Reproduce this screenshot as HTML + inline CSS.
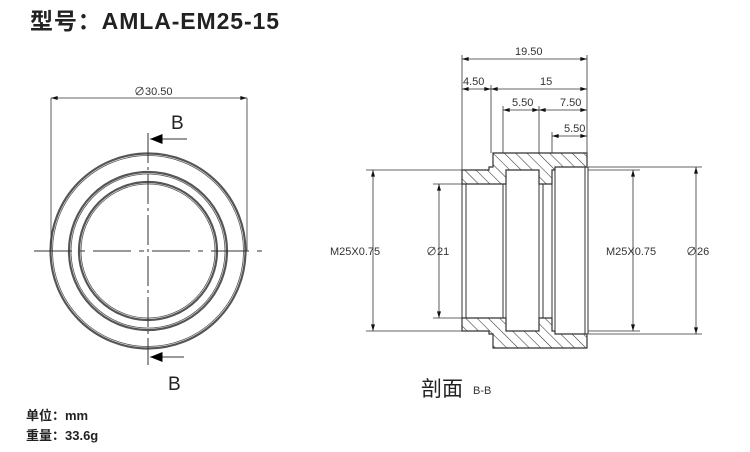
<!DOCTYPE html>
<html><head><meta charset="utf-8"><style>
html,body{margin:0;padding:0;background:#fff;}
svg{display:block;}
</style></head><body>
<svg width="750" height="452" viewBox="0 0 750 452" xmlns="http://www.w3.org/2000/svg">
<defs>
<pattern id="h" patternUnits="userSpaceOnUse" width="8" height="8" patternTransform="rotate(-45)">
<rect width="8" height="8" fill="#fff"/><line x1="0" y1="0" x2="0" y2="8" stroke="#333" stroke-width="1.1"/>
</pattern>
<marker id="a" viewBox="0 0 10 6" refX="10" refY="3" markerWidth="8" markerHeight="4" orient="auto-start-reverse" markerUnits="userSpaceOnUse"><path d="M0,0 L10,3 L0,6z" fill="#111"/></marker>
<marker id="b" viewBox="0 0 10 8" refX="10" refY="4" markerWidth="16" markerHeight="10" orient="auto" markerUnits="userSpaceOnUse"><path d="M0,0 L10,4 L0,8z" fill="#000"/></marker>
</defs>
<g font-family="Liberation Sans, Noto Sans CJK SC, sans-serif">
<text x="30" y="29" font-size="23" font-weight="bold" fill="#222" letter-spacing="1" textLength="250">型号：AMLA-EM25-15</text>
<text x="26" y="420" font-size="13" font-weight="bold" fill="#222">单位：mm</text>
<text x="26" y="440" font-size="13" font-weight="bold" fill="#222">重量：33.6g</text>
<text x="421" y="396" font-size="21" fill="#222">剖面</text>
<text x="473" y="394" font-size="11" fill="#333">B-B</text>

<!-- left view -->
<g fill="none" stroke="#555">
<circle cx="148" cy="251" r="97.5" stroke-width="2.2"/>
<circle cx="148" cy="251" r="95.5" stroke-width="0.8"/>
<circle cx="148" cy="251" r="79" stroke-width="2.2"/>
<circle cx="148" cy="251" r="77" stroke-width="0.8"/>
<circle cx="148" cy="251" r="69" stroke-width="2.2"/>
<circle cx="148" cy="251" r="67" stroke-width="0.8"/>
</g>
<line x1="34" y1="251" x2="262" y2="251" stroke="#333" stroke-dasharray="38,8,5,8" stroke-width="1"/>
<line x1="148" y1="133" x2="148" y2="365" stroke="#333" stroke-dasharray="30,4,3,4" stroke-width="1"/>
<line x1="51" y1="98" x2="51" y2="251" stroke="#333" stroke-width="0.8"/>
<line x1="247" y1="98" x2="247" y2="251" stroke="#333" stroke-width="0.8"/>
<line x1="51" y1="98" x2="247" y2="98" stroke="#333" stroke-width="0.8" marker-start="url(#a)" marker-end="url(#a)"/>
<text x="134" y="95" font-size="11" fill="#333">∅30.50</text>
<text x="171" y="129" font-size="19" fill="#222">B</text>
<line x1="187" y1="139" x2="150" y2="139" stroke="#333" stroke-width="1" marker-end="url(#b)"/>
<text x="168" y="390" font-size="19" fill="#222">B</text>
<line x1="184" y1="357" x2="150" y2="357" stroke="#333" stroke-width="1" marker-end="url(#b)"/>

<!-- section -->
<g stroke="#333" stroke-width="1.2" fill="url(#h)">
<path d="M462,170 H489 V167 H493 V153 H587 V167 H555 V170 H552 V184 H539 V170 H506 V184 H462 Z"/>
<path d="M462,331 H489 V334 H493 V348 H587 V334 H555 V331 H552 V318 H539 V331 H506 V318 H462 Z"/>
</g>
<g stroke="#333" stroke-width="1" fill="none">
<line x1="462" y1="184" x2="462" y2="318"/><line x1="466" y1="184" x2="466" y2="318"/>
<line x1="503" y1="184" x2="503" y2="318"/><line x1="506" y1="184" x2="506" y2="318"/>
<line x1="539" y1="184" x2="539" y2="318"/><line x1="543" y1="184" x2="543" y2="318"/>
<line x1="552" y1="170" x2="552" y2="331"/><line x1="555" y1="170" x2="555" y2="331"/>
<line x1="585" y1="167" x2="585" y2="334"/><line x1="588" y1="167" x2="588" y2="334"/>
</g>
<g stroke="#333" stroke-width="0.8" fill="none">
<line x1="462" y1="55" x2="462" y2="170"/><line x1="587" y1="55" x2="587" y2="153"/>
<line x1="491" y1="85" x2="491" y2="153"/>
<line x1="503" y1="106" x2="503" y2="153"/><line x1="539" y1="106" x2="539" y2="153"/>
<line x1="552" y1="132" x2="552" y2="153"/>
<line x1="462" y1="59" x2="587" y2="59" marker-start="url(#a)" marker-end="url(#a)"/>
<line x1="462" y1="89" x2="491" y2="89" marker-start="url(#a)" marker-end="url(#a)"/>
<line x1="491" y1="89" x2="587" y2="89" marker-start="url(#a)" marker-end="url(#a)"/>
<line x1="503" y1="110" x2="539" y2="110" marker-start="url(#a)" marker-end="url(#a)"/>
<line x1="539" y1="110" x2="587" y2="110" marker-start="url(#a)" marker-end="url(#a)"/>
<line x1="552" y1="136" x2="587" y2="136" marker-start="url(#a)" marker-end="url(#a)"/>
<line x1="366" y1="170" x2="462" y2="170"/><line x1="366" y1="331" x2="462" y2="331"/>
<line x1="373" y1="170" x2="373" y2="331" marker-start="url(#a)" marker-end="url(#a)"/>
<line x1="433" y1="184" x2="462" y2="184"/><line x1="433" y1="318" x2="462" y2="318"/>
<line x1="439" y1="184" x2="439" y2="318" marker-start="url(#a)" marker-end="url(#a)"/>
<line x1="588" y1="170" x2="640" y2="170"/><line x1="588" y1="331" x2="640" y2="331"/>
<line x1="633" y1="170" x2="633" y2="331" marker-start="url(#a)" marker-end="url(#a)"/>
<line x1="588" y1="167" x2="702" y2="167"/><line x1="588" y1="334" x2="702" y2="334"/>
<line x1="696" y1="167" x2="696" y2="334" marker-start="url(#a)" marker-end="url(#a)"/>
</g>
<g font-size="11" fill="#333">
<text x="515" y="55">19.50</text>
<text x="463" y="85">4.50</text>
<text x="540" y="85">15</text>
<text x="512" y="106">5.50</text>
<text x="560" y="106">7.50</text>
<text x="564" y="132">5.50</text>
<text x="330" y="255">M25X0.75</text>
<text x="426" y="255">∅21</text>
<text x="606" y="255">M25X0.75</text>
<text x="686" y="255">∅26</text>
</g>
</g>
</svg>
</body></html>
